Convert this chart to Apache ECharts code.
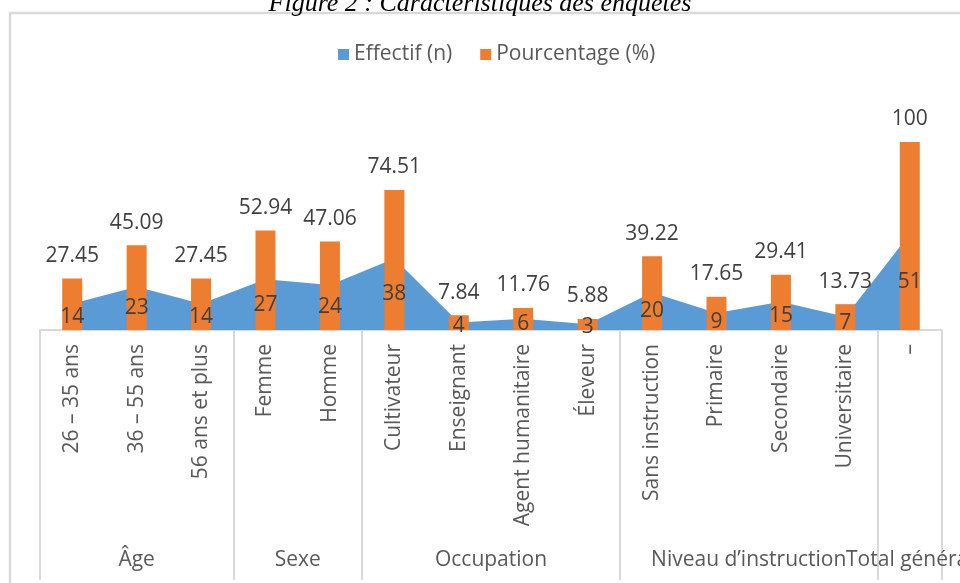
<!DOCTYPE html>
<html>
<head>
<meta charset="utf-8">
<script src="https://cdn.jsdelivr.net/npm/echarts@6/dist/echarts.min.js"></script>
<style>
  html, body { margin: 0; padding: 0; background: #fff; }
  #main { width: 960px; height: 583px; }
</style>
</head>
<body>
<div id="main"></div>
<script>
// données
const categories = ['26 – 35 ans', '36 – 55 ans', '56 ans et plus', 'Femme', 'Homme',
  'Cultivateur', 'Enseignant', 'Agent humanitaire', 'Éleveur',
  'Sans instruction', 'Primaire', 'Secondaire', 'Universitaire', '–'];
const effectif = [14, 23, 14, 27, 24, 38, 4, 6, 3, 20, 9, 15, 7, 51];
const pourcentage = [27.45, 45.09, 27.45, 52.94, 47.06, 74.51, 7.84, 11.76, 5.88, 39.22, 17.65, 29.41, 13.73, 100];
// groupes : nom et nombre de catégories
const groupNames = ['Âge', 'Sexe', 'Occupation', 'Niveau d’instruction', 'Total général'];
const groupSizes = [3, 2, 4, 4, 1];

const groupStart = [];
const groupCenter = {};
let acc = 0;
groupSizes.forEach((n, i) => {
  groupStart.push(acc);
  groupCenter[(acc + n / 2).toFixed(1)] = groupNames[i];
  acc += n;
});

const font = 'Open Sans';
const chart = echarts.init(document.getElementById('main'));

chart.setOption({
  backgroundColor: '#ffffff',
  animation: false,
  title: {
    text: 'Figure 2 : Caractéristiques des enquêtés',
    left: 'center',
    top: -14,
    textStyle: { fontFamily: 'Liberation Serif', fontStyle: 'italic', fontWeight: 'normal', fontSize: 26, color: '#000' }
  },
  graphic: [{
    type: 'rect',
    shape: { x: 10, y: 13, width: 1000, height: 620 },
    style: { fill: 'none', stroke: '#d9d9d9', lineWidth: 2.5 },
    silent: true
  }],
  legend: {
    data: ['Effectif (n)', 'Pourcentage (%)'],
    left: 333,
    top: 39,
    icon: 'rect',
    itemWidth: 11,
    itemHeight: 11,
    itemGap: 28,
    textStyle: { fontFamily: font, fontSize: 21, color: '#595959' }
  },
  grid: { left: 40, right: 18, top: 104.4, bottom: 253, outerBoundsMode: 'none' },
  xAxis: [{
    type: 'category',
    data: categories,
    axisLine: { lineStyle: { color: '#d9d9d9', width: 2 } },
    axisTick: {
      show: true,
      interval: (i) => groupStart.includes(i),
      length: 250,
      lineStyle: { color: '#d9d9d9', width: 2 }
    },
    axisLabel: {
      interval: 0,
      rotate: 90,
      margin: 14,
      fontFamily: font,
      fontSize: 21,
      color: '#595959'
    }
  }, {
    type: 'value',
    position: 'bottom',
    min: 0,
    max: categories.length,
    interval: 0.5,
    axisLine: { show: false },
    axisTick: { show: false },
    splitLine: { show: false },
    axisLabel: {
      margin: 220,
      fontFamily: font,
      fontSize: 21,
      color: '#595959',
      showMinLabel: true,
      showMaxLabel: true,
      hideOverlap: false,
      formatter: (v) => groupCenter[v.toFixed(1)] || ''
    }
  }],
  yAxis: {
    type: 'value',
    min: 0,
    max: 120,
    show: false,
    splitLine: { show: false }
  },
  series: [{
    name: 'Effectif (n)',
    type: 'line',
    data: effectif,
    symbol: 'none',
    lineStyle: { width: 0 },
    itemStyle: { color: '#5b9bd5' },
    areaStyle: { color: '#5b9bd5', opacity: 1 },
    z: 1
  }, {
    name: 'Pourcentage (%)',
    type: 'bar',
    data: pourcentage,
    barWidth: 20,
    itemStyle: { color: '#ed7d31' },
    label: {
      show: true,
      position: 'top',
      distance: 12,
      fontFamily: font,
      fontSize: 21,
      color: '#404040'
    },
    z: 2
  }, {
    // étiquettes de l'effectif, au milieu de l'aire
    name: 'etiquettes',
    type: 'bar',
    data: effectif,
    barWidth: 20,
    barGap: '-100%',
    itemStyle: { color: 'rgba(0,0,0,0)' },
    label: {
      show: true,
      position: 'inside',
      fontFamily: font,
      fontSize: 21,
      color: '#404040'
    },
    z: 3
  }]
});
</script>
</body>
</html>
